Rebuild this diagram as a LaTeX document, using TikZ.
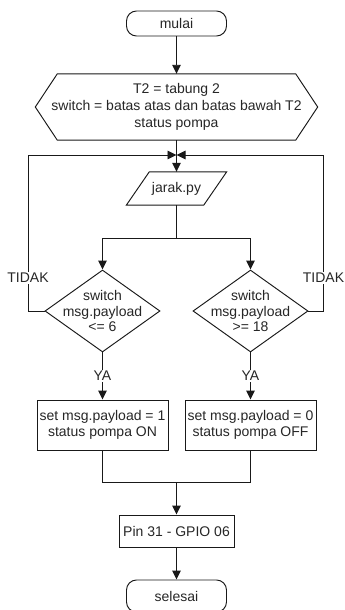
\documentclass[tikz,border=0pt]{standalone}
\usepackage{fontspec}
\setmainfont{Liberation Sans}
\usetikzlibrary{arrows.meta,shapes.geometric}
\begin{document}
\begin{tikzpicture}[x=1pt,y=-1pt,
  every node/.style={font=\fontsize{14}{15.5}\selectfont, text=black!85, align=center},
  ln/.style={draw=black!90, line width=0.95pt},
  arr/.style={ln, -{Triangle[length=9pt,width=8.5pt]}},
  term/.style={ln, rounded corners=10pt, minimum width=100pt, inner sep=0pt},
  proc/.style={ln, minimum height=50pt, minimum width=131pt, inner sep=0pt},
  dec/.style={diamond, ln, minimum width=115pt, minimum height=82pt, inner sep=0pt},
  lbl/.style={fill=white, inner sep=1.5pt}]
\useasboundingbox (0,0) rectangle (345,610);
\clip (0,0) rectangle (345,610);

% nodes
\node[term, minimum height=25pt] (mulai) at (176.5,23.5) {mulai};
\node[minimum width=282pt, minimum height=66pt, inner sep=0pt,
      font=\fontsize{14}{17}\selectfont] (hex) at (176.5,107)
      {T2 = tabung 2\\switch = batas atas dan batas bawah T2\\status pompa};
\draw[ln] (hex.west) -- ([xshift=22pt]hex.north west) -- ([xshift=-22pt]hex.north east)
  -- (hex.east) -- ([xshift=-22pt]hex.south east) -- ([xshift=22pt]hex.south west) -- cycle;

\node[minimum width=100pt, minimum height=33pt, inner sep=0pt] (jarak) at (176.5,188.5) {jarak.py};
\draw[ln] ([xshift=23pt]jarak.north west) -- (jarak.north east)
  -- ([xshift=-23pt]jarak.south east) -- (jarak.south west) -- cycle;

\node[dec] (d1) at (102.5,311) {};
\node (d1t) at (d1) {switch\\msg.payload\\<= 6};
\node[dec] (d2) at (250.5,311) {};
\node (d2t) at (d2) {switch\\msg.payload\\>= 18};

\node[proc] (b1) at (102.5,425) {set msg.payload = 1\\status pompa ON};
\node[proc] (b2) at (250.5,425) {set msg.payload = 0\\status pompa OFF};

\node[ln, minimum width=115pt, minimum height=32pt, inner sep=0pt] (pin) at (176.5,531) {Pin 31 - GPIO 06};
\node[term, minimum height=32pt] (selesai) at (176.5,596) {selesai};

% junction coordinates
\coordinate (m) at (176.5,155);
\coordinate (lt) at (28,155);
\coordinate (rt) at (323.5,155);
\coordinate (j) at (176.5,238);
\coordinate (k) at (176.5,482);

% connectors
\draw[arr] (mulai.south) -- (hex.north);
\draw[arr] (hex.south) -- (jarak.north);
\draw[arr] (d1.west) -| (lt) -- (m);
\draw[arr] (d2.east) -| (rt) -- (m);
\draw[ln] (jarak.south) -- (j);
\draw[arr] (j) -| (d1.north);
\draw[arr] (j) -| (d2.north);
\draw[arr] (d1.south) -- node[lbl] (ya1) {YA} (b1.north);
\draw[arr] (d2.south) -- node[lbl] (ya2) {YA} (b2.north);
\draw[ln] (b1.south) |- (k);
\draw[ln] (b2.south) |- (k);
\draw[arr] (k) -- (pin.north);
\draw[arr] (pin.south) -- (selesai.north);

\node[lbl] (t1) at (28,278) {TIDAK};
\node[lbl] (t2) at (323.5,278) {TIDAK};
\end{tikzpicture}
\end{document}
